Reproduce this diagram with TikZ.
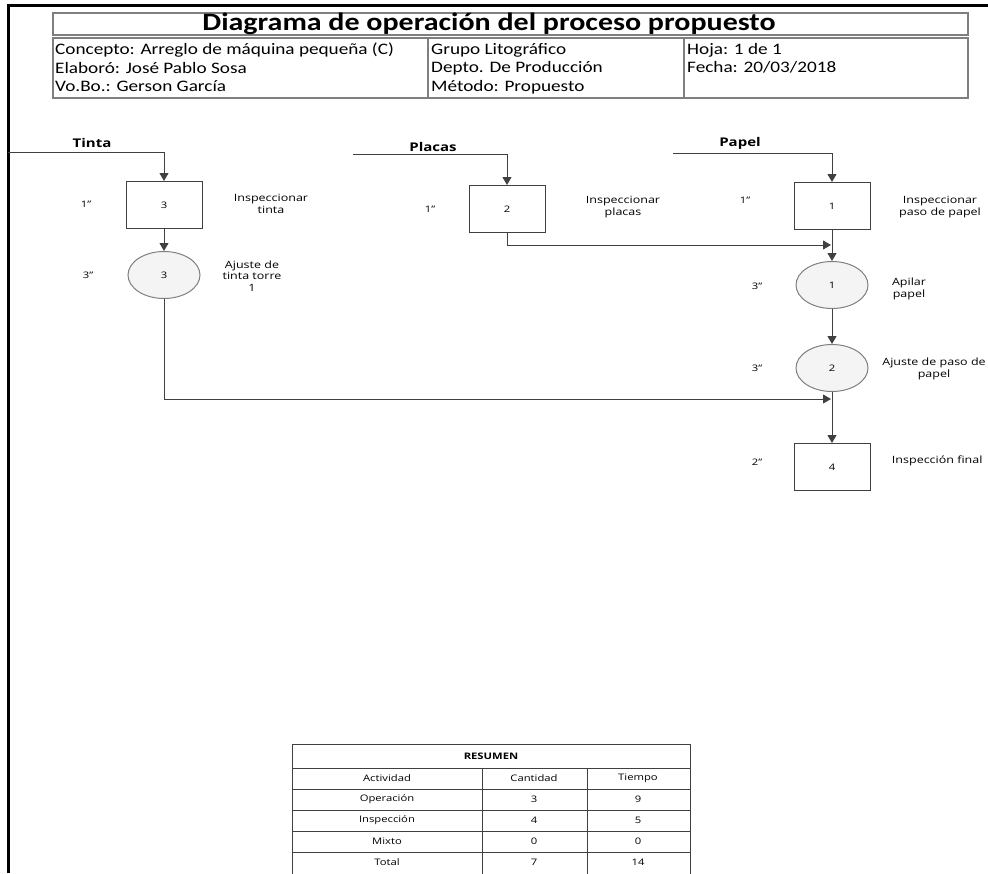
\documentclass[tikz,border=0pt]{standalone}
\usepackage{fontspec}
\setmainfont{Carlito}
\newfontfamily\headfont[FakeStretch=1.2]{Carlito}
\newfontfamily\diagfont[FakeStretch=1.25]{Open Sans}
\usetikzlibrary{arrows.meta,shapes.geometric,positioning}

\definecolor{linegray}{HTML}{404040}
\definecolor{rulegray}{HTML}{7F7F7F}
\definecolor{opfill}{HTML}{F4F4F4}

\tikzset{
  headbox/.style={draw=rulegray, line width=1.6pt},
  headtext/.style={anchor=north west, align=left, inner sep=0pt, font=\headfont\fontsize{16}{18.5}\selectfont},
  flow/.style={draw=linegray, line width=1pt, -{Triangle[width=9pt,length=8pt]}},
  inspbox/.style={draw=linegray, line width=1pt, rectangle, minimum width=76pt,
    minimum height=47pt, inner sep=0pt, font=\diagfont\fontsize{9}{11}\selectfont},
  opcircle/.style={draw=rulegray, fill=opfill, ellipse, line width=1pt, minimum width=72pt,
    minimum height=47pt, inner sep=0pt, font=\diagfont\fontsize{9}{11}\selectfont},
  timelabel/.style={font=\diagfont\fontsize{9}{11}\selectfont},
  desc/.style={align=center, font=\diagfont\fontsize{10}{11.5}\selectfont},
  input/.style={font=\diagfont\bfseries\fontsize{12}{14}\selectfont},
  cell/.style={font=\diagfont\fontsize{9}{11}\selectfont},
}

\begin{document}
\begin{tikzpicture}[x=1pt,y=-1pt]
  \useasboundingbox (0,0) rectangle (988,873);

  % page frame
  \draw[line width=3pt] (8,873) -- (8,5) -- (988,5);

  % header
  \draw[headbox] (53,13) rectangle (968,35);
  \node (title) at (489,24) {\headfont\bfseries\fontsize{25}{27}\selectfont Diagrama de operación del proceso propuesto};
  \draw[headbox] (53,38) rectangle (968,98);
  \draw[headbox] (428,38) -- (428,98);
  \draw[headbox] (684,38) -- (684,98);
  \node[headtext] (concepto) at (55,43) {Concepto: Arreglo de máquina pequeña (C)\\Elaboró: José Pablo Sosa\\Vo.Bo.: Gerson García};
  \node[headtext] (empresa) at (431,43) {Grupo Litográfico\\Depto. De Producción\\Método: Propuesto};
  \node[headtext] (hoja) at (687,43) {Hoja: 1 de 1\\Fecha: 20/03/2018};

  % tinta
  \coordinate (tintain) at (8,152);
  \node[input] (tinta) at (92,143) {Tinta};
  \node[inspbox] (insp3) at (164,205) {3};
  \node[timelabel] (t3) at (86,204) {1”};
  \node[desc] (d3) at (271,204) {Inspeccionar\\tinta};
  \node[opcircle] (op3) at (164,275) {3};
  \node[timelabel] (t4) at (88,275) {3”};
  \node[desc] (d4) at (252,276) {Ajuste de\\tinta torre\\1};

  % placas
  \coordinate (placasin) at (353,154);
  \node[input] (placas) at (433,147) {Placas};
  \node[inspbox] (insp2) at (507,209) {2};
  \node[timelabel] (t2) at (430,209) {1”};
  \node[desc] (d2) at (623,207) {Inspeccionar\\placas};

  % papel
  \coordinate (papelin) at (673,153);
  \node[input] (papel) at (740,143) {Papel};
  \node[inspbox] (insp1) at (832,206) {1};
  \node[timelabel] (t1) at (745,200) {1”};
  \node[desc] (d1) at (940,207) {Inspeccionar\\paso de papel};
  \node[opcircle] (op1) at (832,285) {1};
  \node[timelabel] (t5) at (757,286) {3”};
  \node[desc] (d5) at (909,289) {Apilar\\papel};
  \node[opcircle] (op2) at (832,368) {2};
  \node[timelabel] (t6) at (757,368) {3”};
  \node[desc] (d6) at (934,369) {Ajuste de paso de\\papel};
  \node[inspbox] (insp4) at (832,467) {4};
  \node[timelabel] (t7) at (757,462) {2”};
  \node[desc, anchor=east] (d7) at (986,461) {Inspección final};

  \coordinate (join1) at (831,245);
  \coordinate (join2) at (831,399);

  \draw[flow] (tintain) -| (insp3);
  \draw[flow] (insp3) -- (op3);
  \draw[flow] (op3) |- (join2);
  \draw[flow] (placasin) -| (insp2);
  \draw[flow] (insp2) |- (join1);
  \draw[flow] (papelin) -| (insp1);
  \draw[flow] (insp1) -- (op1);
  \draw[flow] (op1) -- (op2);
  \draw[flow] (op2) -- (insp4);

  % resumen
  \draw[linegray, line width=0.8pt] (292,880) -- (292,744) -- (690,744) -- (690,880);
  \foreach \y in {768,789,810,831,852}
    \draw[linegray, line width=0.8pt] (292,\y) -- (690,\y);
  \draw[linegray, line width=0.8pt] (482,768) -- (482,880);
  \draw[linegray, line width=0.8pt] (587,768) -- (587,880);
  \node[cell] (resumen) at (491,756) {\bfseries RESUMEN};
  \node[cell] (actividad) at (387,778) {Actividad};
  \node[cell] (cantidad) at (534,778) {Cantidad};
  \node[cell] (tiempo) at (638,778) {Tiempo};
  \foreach \act/\cant/\tiem [count=\r] in {Operación/3/9, Inspección/4/5, Mixto/0/0, Total/7/14} {
    \node[cell] (act\r) at (387,778+\r*21.1) {\act};
    \node[cell] (cant\r) at (534,778+\r*21.1) {\cant};
    \node[cell] (tiem\r) at (638,778+\r*21.1) {\tiem};
  }
\end{tikzpicture}
\end{document}
